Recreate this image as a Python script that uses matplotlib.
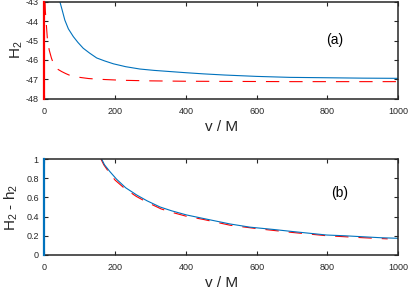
import matplotlib
matplotlib.use("Agg")
import matplotlib.pyplot as plt

plt.rcParams['font.family'] = ['Liberation Sans', 'DejaVu Sans']
plt.rcParams['mathtext.fontset'] = 'custom'
plt.rcParams['mathtext.rm'] = 'Liberation Sans'
plt.rcParams['mathtext.it'] = 'Liberation Sans'

# panel (a): H_2 vs v/M
a_blue_v = [44, 50, 58, 68, 82, 95, 110, 128, 148, 170, 195, 230, 270, 310, 355,
            400, 450, 510, 600, 694, 800, 900, 1000]
a_blue_h = [-43.0, -43.4, -43.95, -44.4, -44.8, -45.1, -45.4, -45.65, -45.9, -46.05,
            -46.2, -46.35, -46.47, -46.54, -46.6, -46.66, -46.72, -46.78, -46.85,
            -46.9, -46.92, -46.94, -46.95]
a_red_v = [2, 3, 5, 7, 9, 12, 14, 17, 20, 26, 35, 49, 60, 70, 85, 100, 125, 157,
           220, 300, 400, 550, 700, 850, 1000]
a_red_h = [-43.0, -43.5, -44.0, -44.5, -45.0, -45.3, -45.5, -45.7, -45.9, -46.2,
           -46.45, -46.6, -46.7, -46.78, -46.85, -46.9, -46.96, -47.0, -47.05,
           -47.08, -47.1, -47.11, -47.12, -47.12, -47.12]
a_spike_v = [0, 0]
a_spike_h = [-48, -43]

# panel (b): H_2 - h_2 vs v/M
b_blue_v = [162, 170, 185, 204, 230, 261, 290, 327, 360, 402, 450, 525, 581, 650,
            700, 798, 850, 900, 950, 1000]
b_blue_d = [1.0, 0.94, 0.87, 0.79, 0.70, 0.625, 0.565, 0.50, 0.46, 0.417, 0.38,
            0.323, 0.29, 0.265, 0.245, 0.208, 0.2, 0.19, 0.18, 0.174]
b_red_v = [160, 168, 183, 200, 228, 260, 290, 330, 360, 400, 450, 525, 600, 650,
           700, 800, 850, 900, 970]
b_red_d = [1.0, 0.94, 0.86, 0.78, 0.69, 0.61, 0.55, 0.48, 0.445, 0.405, 0.37,
           0.31, 0.275, 0.255, 0.235, 0.2, 0.19, 0.18, 0.168]
b_spike_v = [0, 0]
b_spike_d = [0, 1]

xticks = [0, 200, 400, 600, 800, 1000]
a_yticks = [-48, -47, -46, -45, -44, -43]
b_yticks = [0, 0.2, 0.4, 0.6, 0.8, 1]

BLUE = '#0072BD'
RED = '#FF0000'
DARK = '#262626'

fig = plt.figure(figsize=(4.08, 2.93), dpi=100)
ax1 = fig.add_axes([0.1086, 0.6631, 0.8676, 0.3311])
ax2 = fig.add_axes([0.1086, 0.1297, 0.8676, 0.3276])

# vertical spikes at v = 0 sit on top of the left spine
ax1.plot(a_spike_v, a_spike_h, color=RED, lw=1.6, clip_on=False, zorder=3)
ax1.plot(a_red_v, a_red_h, color=RED, lw=0.8, dashes=(12, 9))
ax1.plot(a_blue_v, a_blue_h, color=BLUE, lw=0.8)
ax1.set_ylim(-48, -43)
ax1.set_yticks(a_yticks)
ax1.set_yticklabels([str(t) for t in a_yticks])
ax1.set_ylabel('H$_2$', fontsize=11, color=DARK)
ax1.yaxis.set_label_coords(-0.055, 0.5)
ax1.text(0.821, 0.605, '(a)', transform=ax1.transAxes, fontsize=10,
         ha='center', va='center', color='black')

ax2.plot(b_spike_v, b_spike_d, color=BLUE, lw=1.6, clip_on=False, zorder=3)
ax2.plot(b_red_v, b_red_d, color=RED, lw=0.8, dashes=(12, 9))
ax2.plot(b_blue_v, b_blue_d, color=BLUE, lw=0.8)
ax2.set_ylim(0, 1)
ax2.set_yticks(b_yticks)
ax2.set_yticklabels(['0', '0.2', '0.4', '0.6', '0.8', '1'])
ax2.set_ylabel('H$_2$ - h$_2$', fontsize=11, color=DARK)
ax2.yaxis.set_label_coords(-0.069, 0.5)
ax2.text(0.835, 0.646, '(b)', transform=ax2.transAxes, fontsize=10,
         ha='center', va='center', color='black')

for ax in (ax1, ax2):
    ax.set_xlim(0, 1000)
    ax.set_xticks(xticks)
    ax.set_xticklabels([str(t) for t in xticks])
    ax.set_xlabel('v / M', fontsize=11, color=DARK, labelpad=3)
    ax.tick_params(direction='in', top=True, right=True, length=3, width=0.8,
                   labelsize=6.5, colors=DARK)
    ax.tick_params(axis='x', pad=6)
    ax.tick_params(axis='y', pad=4)
    for s in ax.spines.values():
        s.set_color(DARK)
        s.set_linewidth(1.1)

fig.savefig('out.png', dpi=100)
